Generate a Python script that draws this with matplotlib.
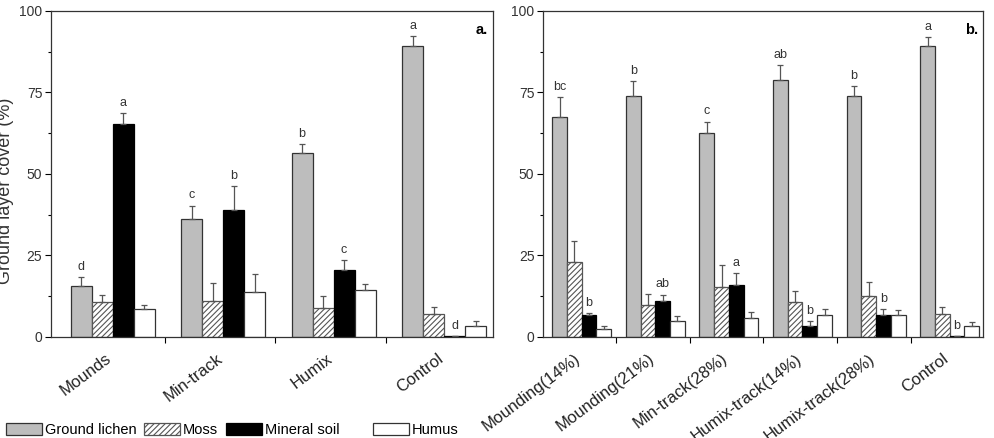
import numpy as np
import matplotlib.pyplot as plt
from matplotlib.patches import Patch

plt.rcParams['font.family'] = ['Liberation Sans', 'DejaVu Sans']
plt.rcParams['hatch.color'] = '#707070'
plt.rcParams['hatch.linewidth'] = 0.8

# --- data ---
series = ['Ground lichen', 'Moss', 'Mineral soil', 'Humus']

cats_a = ['Mounds', 'Min-track', 'Humix', 'Control']
lichen_a = [15.7, 36.2, 56.5, 89.3]
lichen_a_err = [2.7, 4.1, 2.8, 3.0]
moss_a = [10.7, 11.1, 9.0, 7.2]
moss_a_err = [2.1, 5.5, 3.6, 2.1]
mineral_a = [65.4, 38.9, 20.6, 0.3]
mineral_a_err = [3.2, 7.3, 3.1, 0.0]
humus_a = [8.5, 13.9, 14.3, 3.4]
humus_a_err = [1.4, 5.4, 1.9, 1.4]
letters_lichen_a = ['d', 'c', 'b', 'a']
letters_mineral_a = ['a', 'b', 'c', 'd']

cats_b = ['Mounding(14%)', 'Mounding(21%)', 'Min-track(28%)',
          'Humix-track(14%)', 'Humix-track(28%)', 'Control']
lichen_b = [67.4, 73.8, 62.7, 78.8, 73.8, 89.3]
lichen_b_err = [6.3, 4.8, 3.4, 4.7, 3.2, 2.8]
moss_b = [22.9, 9.9, 15.3, 10.6, 12.7, 7.2]
moss_b_err = [6.7, 3.4, 6.7, 3.4, 4.1, 2.0]
mineral_b = [6.7, 11.1, 15.8, 3.5, 6.7, 0.2]
mineral_b_err = [0.6, 1.9, 3.8, 1.3, 1.9, 0.0]
humus_b = [2.6, 4.8, 5.8, 6.8, 6.7, 3.4]
humus_b_err = [0.9, 1.7, 1.8, 1.8, 1.7, 1.3]
letters_lichen_b = ['bc', 'b', 'c', 'ab', 'b', 'a']
letters_mineral_b = ['b', 'ab', 'a', 'b', 'b', 'b']

styles = [dict(color='#bdbdbd', edgecolor='#333333'),
          dict(color='white', edgecolor='#555555', hatch='//////'),
          dict(color='black', edgecolor='black'),
          dict(color='white', edgecolor='#333333')]


def draw_panel(ax, cats, vals, errs, let_l, let_m, width, shift, xlim, tag):
    x = np.arange(1, len(cats) + 1)
    offs = (np.arange(4) - 1.5) * width + shift
    for k in range(4):
        ax.bar(x + offs[k], vals[k], width, linewidth=0.9, **styles[k])
        ax.errorbar(x + offs[k], vals[k], yerr=[np.zeros(len(cats)), errs[k]],
                    fmt='none', ecolor='#555555', elinewidth=0.9, capsize=2.5,
                    capthick=0.9)
    for i in range(len(cats)):
        ax.text(x[i] + offs[0], vals[0][i] + errs[0][i] + 2.2, let_l[i],
                ha='center', va='baseline', fontsize=9, color='#333333')
        ax.text(x[i] + offs[2], vals[2][i] + errs[2][i] + 2.2, let_m[i],
                ha='center', va='baseline', fontsize=9, color='#333333')
    ax.set_xlim(*xlim)
    ax.set_ylim(0, 100)
    ax.set_yticks([0, 25, 50, 75, 100])
    ax.set_yticks([12.5, 37.5, 62.5, 87.5], minor=True)
    ax.set_xticks(x + shift)
    ax.set_xticks(x[:-1] + 0.5, minor=True)
    ax.set_xticklabels(cats, rotation=37, ha='right', va='baseline',
                       rotation_mode='anchor', fontsize=12, color='#222222')
    ax.tick_params(axis='x', which='major', length=0, pad=17)
    ax.tick_params(axis='x', which='minor', length=4, width=0.8, direction='out')
    ax.tick_params(axis='y', which='major', length=4, width=0.8, labelsize=10,
                   pad=2, labelcolor='#333333')
    ax.tick_params(axis='y', which='minor', length=2.5, width=0.8)
    for s in ax.spines.values():
        s.set_linewidth(0.9)
        s.set_color('#333333')
    ax.text(0.989, 0.963, tag, transform=ax.transAxes, ha='right', va='top',
            fontsize=10.5, fontweight='bold')


fig = plt.figure(figsize=(9.94, 4.38), dpi=100)
ax_a = fig.add_axes([0.051, 0.2306, 0.4447, 0.7443])
ax_b = fig.add_axes([0.546, 0.2306, 0.4427, 0.7443])

draw_panel(ax_a, cats_a,
           [lichen_a, moss_a, mineral_a, humus_a],
           [lichen_a_err, moss_a_err, mineral_a_err, humus_a_err],
           letters_lichen_a, letters_mineral_a, 0.19, 0.03, (0.47, 4.47), 'a.')
draw_panel(ax_b, cats_b,
           [lichen_b, moss_b, mineral_b, humus_b],
           [lichen_b_err, moss_b_err, mineral_b_err, humus_b_err],
           letters_lichen_b, letters_mineral_b, 0.2, 0.03, (0.5, 6.48), 'b.')

ax_a.set_ylabel('Ground layer cover (%)', fontsize=13, color='#333333')
ax_a.yaxis.set_label_coords(-0.084, 0.448)

handles = [Patch(facecolor=s['color'], edgecolor=s['edgecolor'],
                 hatch=s.get('hatch'), linewidth=0.9) for s in styles]
leg_kw = dict(loc='center left', ncol=3, frameon=False, fontsize=10.5,
              handlelength=2.45, handleheight=0.9, handletextpad=0.2,
              columnspacing=0.55, borderpad=0, borderaxespad=0)
fig.legend(handles[:3], series[:3],
           bbox_to_anchor=(6 / 994, 1 - 430 / 438), **leg_kw)
fig.legend(handles[3:], series[3:],
           bbox_to_anchor=(373 / 994, 1 - 430 / 438), **leg_kw)

fig.savefig('out.png', dpi=100)
